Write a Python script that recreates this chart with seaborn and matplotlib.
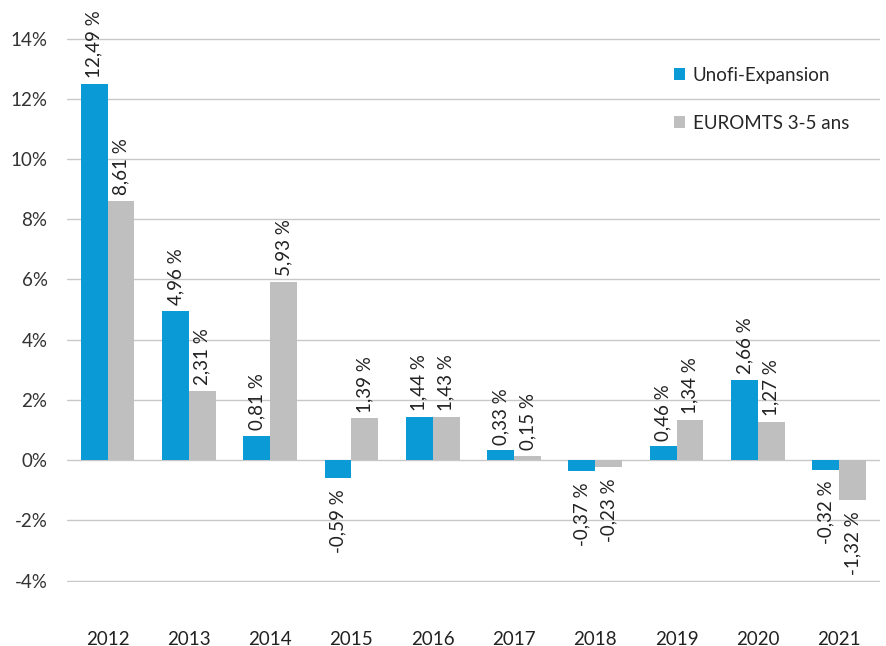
import matplotlib
matplotlib.use("Agg")
import matplotlib.pyplot as plt
import seaborn as sns
import pandas as pd
from matplotlib.ticker import FuncFormatter
from matplotlib.patches import Patch

years = ["2012", "2013", "2014", "2015", "2016", "2017", "2018", "2019", "2020", "2021"]
unofi = [12.49, 4.96, 0.81, -0.59, 1.44, 0.33, -0.37, 0.46, 2.66, -0.32]
euromts = [8.61, 2.31, 5.93, 1.39, 1.43, 0.15, -0.23, 1.34, 1.27, -1.32]
series_names = ["Unofi-Expansion", "EUROMTS 3-5 ans"]
colors = ["#0A9AD6", "#BFBFBF"]

df = pd.DataFrame({
    "year": years * 2,
    "value": unofi + euromts,
    "series": [series_names[0]] * len(years) + [series_names[1]] * len(years),
})

sns.set_style("white")
plt.rcParams["font.family"] = ["Lato", "DejaVu Sans"]

fig = plt.figure(figsize=(8.86, 6.46), dpi=100)
ax = fig.add_axes([0.0756, 0.0990, 0.9174, 0.8422])

sns.barplot(data=df, x="year", y="value", hue="series", palette=colors,
            width=0.66, gap=0, ax=ax, legend=False, saturation=1, linewidth=0)

ax.set_ylim(-4.05, 14.02)
ax.set_yticks(range(-4, 15, 2))
ax.yaxis.set_major_formatter(FuncFormatter(lambda v, p: f"{int(v)}%"))
ax.grid(axis="y", color="#C8C8C8", linewidth=1)
ax.set_axisbelow(True)
for s in ax.spines.values():
    s.set_visible(False)
ax.set_xlabel("")
ax.set_ylabel("")
ax.tick_params(axis="y", labelsize=13.5, pad=14, length=0, labelcolor="#333333")
ax.tick_params(axis="x", labelsize=13.5, pad=35, length=0, labelcolor="#222222")
ax.set_xlim(-0.5, 9.5)

for cont, vals in zip(ax.containers, [unofi, euromts]):
    for bar, v in zip(cont, vals):
        bar.set_linewidth(0)
        x = bar.get_x() + bar.get_width() / 2
        txt = f"{v:.2f} %".replace(".", ",")
        if v >= 0:
            ax.annotate(txt, (x, v), xytext=(0, 4), textcoords="offset points",
                        rotation=90, ha="center", va="bottom", fontsize=13.5,
                        color="#222222", annotation_clip=False)
        else:
            ax.annotate(txt, (x, v), xytext=(0, -8), textcoords="offset points",
                        rotation=90, ha="center", va="top", fontsize=13.5,
                        color="#222222", annotation_clip=False)

handles = [Patch(facecolor=c, edgecolor="none") for c in colors]
ax.legend(handles, series_names, loc="upper left", bbox_to_anchor=(0.735, 0.964),
          frameon=False, handlelength=0.6, handleheight=0.6, handletextpad=0.4,
          labelspacing=1.65, fontsize=13.5, borderpad=0)

fig.savefig("out.png", dpi=100)
